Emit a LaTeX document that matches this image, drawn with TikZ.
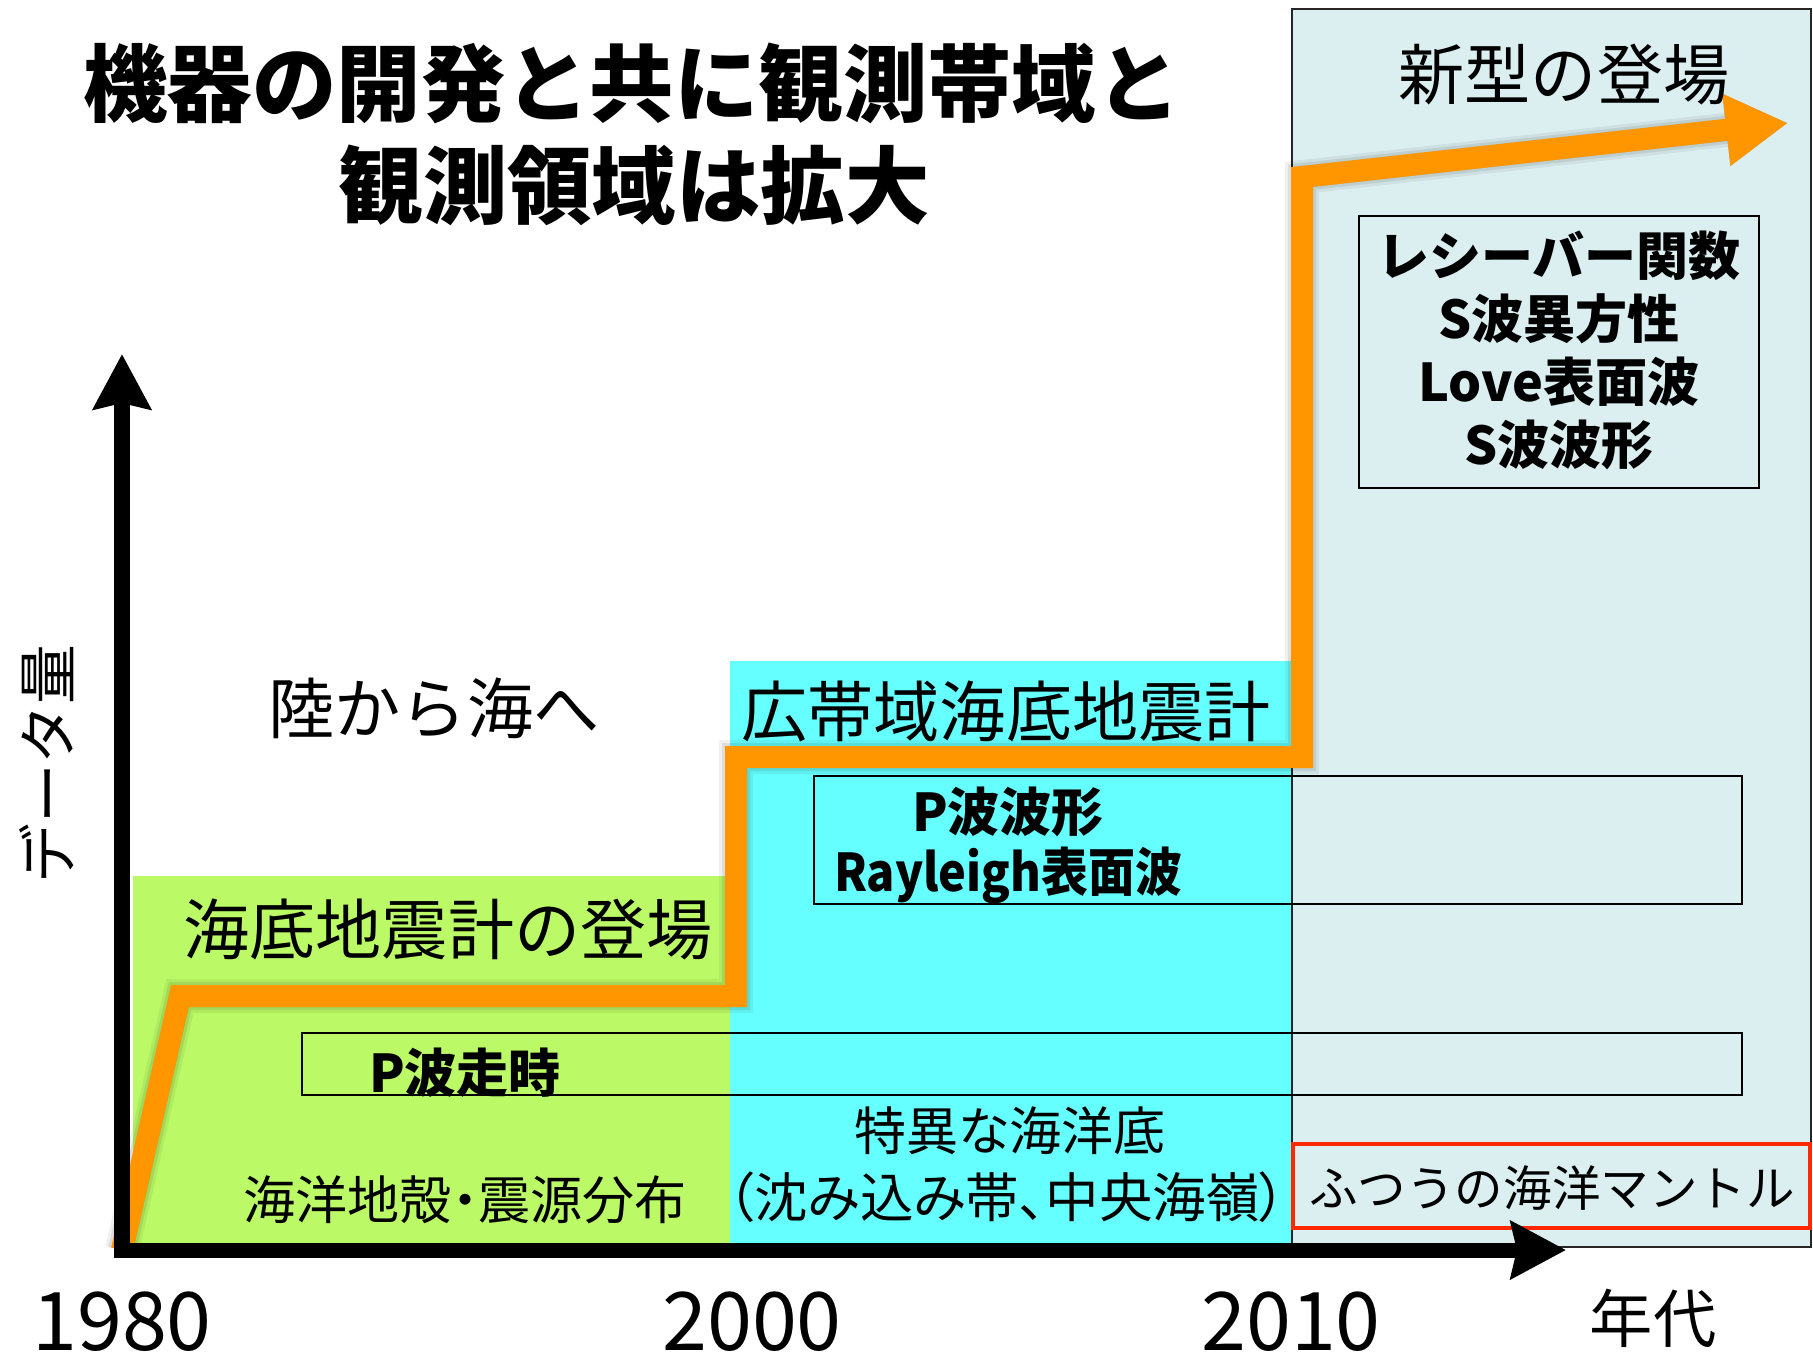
\documentclass[tikz,border=0pt]{standalone}
\usepackage{fontspec}
\usetikzlibrary{arrows.meta}
\newfontfamily\jp{Noto Sans CJK JP}
\newfontfamily\jpp{Noto Sans CJK JP}[RawFeature={+palt}]
\definecolor{gfill}{RGB}{187,250,102}
\definecolor{cfill}{RGB}{102,255,255}
\definecolor{bfill}{RGB}{219,238,240}
\definecolor{orng}{RGB}{255,150,0}
\definecolor{redb}{RGB}{255,40,0}
\begin{document}
\begin{tikzpicture}[x=0.01cm,y=-0.01cm,
  every node/.style={inner sep=0pt,outer sep=0pt},
  titlef/.style={font=\jp\bfseries\fontsize{24pt}{28pt}\selectfont},
  biglbl/.style={font=\jp\fontsize{18.8pt}{22pt}\selectfont},
  midlbl/.style={font=\jpp\fontsize{14.8pt}{18pt}\selectfont},
  boldlbl/.style={font=\jp\bfseries\fontsize{14.8pt}{17.9pt}\selectfont},
  yearlbl/.style={font=\jp\fontsize{23pt}{27pt}\selectfont},
  thinbox/.style={draw=black,line width=0.6pt},
  orangeline/.style={draw=orng,line width=0.22cm,line join=miter,
     -{Triangle[length=0.62cm,width=0.68cm]}},
  shadowline/.style={draw=black,line join=miter,
     -{Triangle[length=0.62cm,width=0.68cm]}},
  axisline/.style={draw=black,line width=0.15cm,line join=miter,
     {Stealth[length=0.55cm,width=0.57cm,inset=0.06cm]}-{Stealth[length=0.55cm,width=0.57cm,inset=0.06cm]}}
]
\useasboundingbox (0,0) rectangle (1813,1363);
\fill[white] (0,0) rectangle (1813,1363);

% regions
\draw[fill=bfill,draw=black!85,line width=0.6pt] (1292,9) rectangle (1811,1247);
\fill[gfill] (133,876) rectangle (730,1246);
\fill[cfill] (730,661) rectangle (1291,1246);

% thin boxes
\draw[thinbox] (302,1033) rectangle (1742,1095);
\draw[thinbox] (814,776) rectangle (1742,904);
\draw[thinbox] (1359,216) rectangle (1759,488);
\draw[draw=redb,line width=1.4pt] (1293,1144) rectangle (1810,1228);

% orange step line
\coordinate (o0) at (122,1250);
\coordinate (o1) at (180,996);
\coordinate (o2) at (736,996);
\coordinate (o3) at (736,757);
\coordinate (o4) at (1302,757);
\coordinate (o5) at (1302,177);
\coordinate (o6) at (1788,123);
\begin{scope}[shift={(6,7)}]
  \draw[shadowline,line width=0.34cm,opacity=0.06] (o0) -- (o1) -- (o2) -- (o3) -- (o4) -- (o5) -- (o6);
  \draw[shadowline,line width=0.28cm,opacity=0.08] (o0) -- (o1) -- (o2) -- (o3) -- (o4) -- (o5) -- (o6);
  \draw[shadowline,line width=0.22cm,opacity=0.12] (o0) -- (o1) -- (o2) -- (o3) -- (o4) -- (o5) -- (o6);
\end{scope}
\draw[orangeline] (o0) -- (o1) -- (o2) -- (o3) -- (o4) -- (o5) -- (o6);

% axes
\coordinate (ytip) at (122,354);
\coordinate (orig) at (122,1250);
\coordinate (xtip) at (1566,1250);
\draw[axisline] (ytip) -- (orig) -- (xtip);

% title
\node[titlef] (t1) at (632,83) {機器の開発と共に観測帯域と};
\node[titlef] (t2) at (634,185) {観測領域は拡大};

% labels
\node[biglbl] (shingata) at (1564,75) {新型の登場};
\node[biglbl] (riku) at (434,708) {陸から海へ};
\node[biglbl] (kotai) at (1006,711) {広帯域海底地震計};
\node[biglbl] (kaitei) at (448,929) {海底地震計の登場};

\node[boldlbl,align=center] (newobs) at (1559,350) {レシーバー関数\\S波異方性\\Love表面波\\S波波形};
\node[boldlbl] (pwave) at (1008,812) {P波波形};
\node[boldlbl,xscale=0.9] (rayl) at (1008,875) {Rayleigh表面波};
\node[boldlbl] (ptime) at (465,1073) {P波走時};

\node[midlbl] (tokui) at (1010,1131) {特異な海洋底};
\node[midlbl,font=\jpp\fontsize{15.2pt}{18pt}\selectfont] (shizumi) at (1007,1197) {（沈み込み帯、中央海嶺）};
\node[midlbl] (chikaku) at (465,1200) {海洋地殻・震源分布};
\node[font=\jp\fontsize{13.8pt}{17pt}\selectfont] (futsuu) at (1552,1188) {ふつうの海洋マントル};

\node[yearlbl] (y1980) at (122,1322) {1980};
\node[yearlbl] (y2000) at (752,1322) {2000};
\node[yearlbl] (y2010) at (1291,1322) {2010};
\node[font=\jp\fontsize{18pt}{21pt}\selectfont] (nendai) at (1653,1318) {年代};
\node[font=\jp\fontsize{17pt}{20pt}\selectfont,rotate=90] (dataryo) at (47,764) {データ量};
\end{tikzpicture}
\end{document}
